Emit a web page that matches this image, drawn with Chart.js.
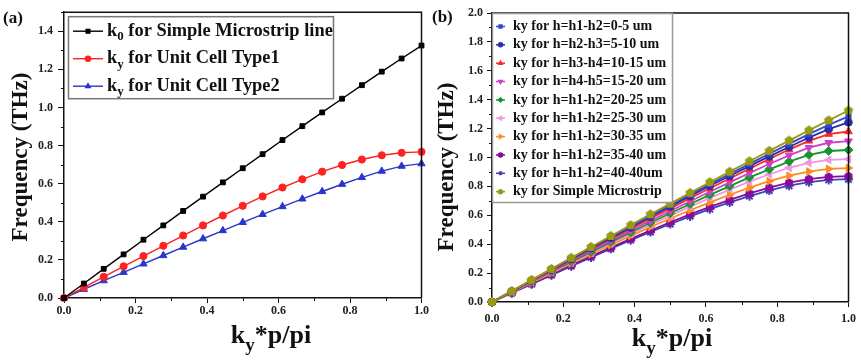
<!DOCTYPE html>
<html>
<head>
<meta charset="utf-8">
<script src="https://cdn.jsdelivr.net/npm/chart.js@4.4.1/dist/chart.umd.min.js"></script>
<style>
  html, body { margin: 0; padding: 0; background: #fff; }
  #wrap { position: relative; width: 861px; height: 361px; overflow: hidden; background: #fff; }
  canvas { position: absolute; top: 0; }
  #cA { left: 0; }
  #cB { left: 430px; }
</style>
</head>
<body>
<div id="wrap">
  <canvas id="cA" width="430" height="361"></canvas>
  <canvas id="cB" width="431" height="361"></canvas>
</div>
<script>
// Normalised wave number k*p/pi at each computed point
const kyValues = [0, 0.0556, 0.1111, 0.1667, 0.2222, 0.2778, 0.3333, 0.3889, 0.4444, 0.5,
                  0.5556, 0.6111, 0.6667, 0.7222, 0.7778, 0.8333, 0.8889, 0.9444, 1.0];

// Panel (a): dispersion curves (THz)
const k0Simple = [0, 0.076, 0.153, 0.229, 0.306, 0.381, 0.457, 0.532, 0.607, 0.681,
                  0.755, 0.829, 0.902, 0.974, 1.046, 1.117, 1.188, 1.257, 1.325];
const kyType1  = [0, 0.056, 0.111, 0.166, 0.220, 0.274, 0.328, 0.381, 0.433, 0.484,
                  0.533, 0.580, 0.623, 0.663, 0.698, 0.727, 0.749, 0.762, 0.767];
const kyType2  = [0, 0.046, 0.091, 0.135, 0.179, 0.223, 0.267, 0.311, 0.354, 0.397,
                  0.439, 0.480, 0.520, 0.559, 0.597, 0.633, 0.666, 0.692, 0.705];
const labelsA = ['k_0 for Simple Microstrip line', 'k_y for Unit Cell Type1', 'k_y for Unit Cell Type2'];

// Panel (b): groove depth sweep (THz)
const h0to5   = [0, 0.075, 0.151, 0.227, 0.302, 0.378, 0.450, 0.523, 0.598, 0.670,
                 0.744, 0.816, 0.886, 0.956, 1.026, 1.094, 1.162, 1.226, 1.285];
const h5to10  = [0, 0.074, 0.149, 0.224, 0.298, 0.372, 0.444, 0.516, 0.590, 0.661,
                 0.733, 0.804, 0.872, 0.940, 1.008, 1.073, 1.138, 1.196, 1.243];
const h10to15 = [0, 0.073, 0.146, 0.219, 0.292, 0.365, 0.436, 0.507, 0.578, 0.648,
                 0.718, 0.787, 0.855, 0.922, 0.990, 1.055, 1.115, 1.162, 1.180];
const h15to20 = [0, 0.072, 0.143, 0.214, 0.285, 0.356, 0.425, 0.494, 0.562, 0.630,
                 0.697, 0.763, 0.828, 0.893, 0.955, 1.015, 1.068, 1.102, 1.113];
const h20to25 = [0, 0.070, 0.140, 0.209, 0.278, 0.346, 0.414, 0.481, 0.548, 0.614,
                 0.678, 0.741, 0.802, 0.862, 0.918, 0.972, 1.018, 1.045, 1.052];
const h25to30 = [0, 0.069, 0.137, 0.205, 0.272, 0.339, 0.405, 0.470, 0.535, 0.598,
                 0.660, 0.720, 0.778, 0.833, 0.884, 0.929, 0.963, 0.983, 0.989];
const h30to35 = [0, 0.067, 0.134, 0.200, 0.266, 0.331, 0.395, 0.458, 0.519, 0.578,
                 0.635, 0.690, 0.742, 0.791, 0.836, 0.874, 0.903, 0.921, 0.927];
const h35to40 = [0, 0.064, 0.128, 0.191, 0.254, 0.316, 0.377, 0.437, 0.495, 0.552,
                 0.606, 0.658, 0.707, 0.752, 0.792, 0.826, 0.851, 0.866, 0.871];
const h40to40 = [0, 0.062, 0.124, 0.186, 0.248, 0.309, 0.369, 0.428, 0.485, 0.540,
                 0.593, 0.643, 0.690, 0.733, 0.772, 0.805, 0.830, 0.845, 0.850];
const simpleMicrostrip = [0, 0.076, 0.153, 0.229, 0.306, 0.381, 0.457, 0.532, 0.607, 0.681,
                          0.755, 0.829, 0.902, 0.974, 1.046, 1.117, 1.188, 1.257, 1.325];
const labelsB = [
  'ky for h=h1-h2=0-5 um', 'ky for h=h2-h3=5-10 um', 'ky for h=h3-h4=10-15 um',
  'ky for h=h4-h5=15-20 um', 'ky for h=h1-h2=20-25 um', 'ky for h=h1-h2=25-30 um',
  'ky for h=h1-h2=30-35 um', 'ky for h=h1-h2=35-40 um', 'ky for h=h1-h2=40-40um',
  'ky for Simple Microstrip'
];

// Axis ticks
const kTicks = [0, 0.2, 0.4, 0.6, 0.8, 1.0];
const freqTicksA = [0, 0.2, 0.4, 0.6, 0.8, 1.0, 1.2, 1.4];
const freqTicksB = [0, 0.2, 0.4, 0.6, 0.8, 1.0, 1.2, 1.4, 1.6, 1.8, 2.0];

const SERIF = '"Liberation Serif", "Times New Roman", serif';

function pts(ys) { return kyValues.map((x, i) => ({ x: x, y: ys[i] })); }

// filled polygon marker (pentagon / hexagon) as an image
function polyMarker(n, r, color) {
  const c = document.createElement('canvas');
  const s = Math.ceil(r * 2 + 2);
  c.width = s; c.height = s;
  const g = c.getContext('2d');
  g.fillStyle = color;
  g.beginPath();
  for (let i = 0; i < n; i++) {
    const a = -Math.PI / 2 + i * 2 * Math.PI / n;
    const px = s / 2 + r * Math.cos(a), py = s / 2 + r * Math.sin(a);
    if (i === 0) g.moveTo(px, py); else g.lineTo(px, py);
  }
  g.closePath(); g.fill();
  return c;
}

// text with "_x" subscripts
function richParts(str) {
  const out = []; const re = /_(.)/g; let last = 0, m;
  while ((m = re.exec(str))) {
    if (m.index > last) out.push({ t: str.slice(last, m.index), sub: false });
    out.push({ t: m[1], sub: true });
    last = re.lastIndex;
  }
  if (last < str.length) out.push({ t: str.slice(last), sub: false });
  return out;
}
function drawRich(ctx, str, x, y, size, align) {
  const parts = richParts(str);
  const subSize = Math.round(size * 0.72);
  const widths = parts.map(p => {
    ctx.font = 'bold ' + (p.sub ? subSize : size) + 'px ' + SERIF;
    return ctx.measureText(p.t).width;
  });
  const total = widths.reduce((a, b) => a + b, 0);
  let cx = align === 'center' ? x - total / 2 : x;
  parts.forEach((p, i) => {
    ctx.font = 'bold ' + (p.sub ? subSize : size) + 'px ' + SERIF;
    ctx.fillText(p.t, cx, y + (p.sub ? size * 0.3 : 0));
    cx += widths[i];
  });
}

// frame, minor ticks, titles and legend
const decorPlugin = {
  id: 'decor',
  afterDraw(chart, args, o) {
    const ctx = chart.ctx;
    const a = chart.chartArea;
    const xs = chart.scales.x, ys = chart.scales.y;
    ctx.save();
    ctx.strokeStyle = '#111';
    ctx.lineWidth = 1.5;
    ctx.beginPath();
    ctx.moveTo(a.left, a.top); ctx.lineTo(a.right, a.top); ctx.lineTo(a.right, a.bottom);
    ctx.stroke();
    // minor ticks
    ctx.lineWidth = 1;
    ctx.beginPath();
    for (let v = 0.1; v < xs.max; v += 0.2) {
      const px = Math.round(xs.getPixelForValue(v)) + 0.5;
      ctx.moveTo(px, a.bottom); ctx.lineTo(px, a.bottom + o.minorLen);
    }
    for (let v = 0.1; v < ys.max; v += 0.2) {
      const py = Math.round(ys.getPixelForValue(v)) + 0.5;
      ctx.moveTo(a.left, py); ctx.lineTo(a.left - o.minorLen, py);
    }
    ctx.stroke();

    // titles
    ctx.fillStyle = '#111';
    ctx.textBaseline = 'alphabetic';
    ctx.font = 'bold ' + o.panelSize + 'px ' + SERIF;
    ctx.textAlign = 'left';
    ctx.fillText(o.panel, o.panelX, o.panelY);
    drawRich(ctx, o.xTitle, o.xTitleX, o.xTitleY, o.xTitleSize, 'center');
    ctx.save();
    ctx.translate(o.yTitleX, o.yTitleY);
    ctx.rotate(-Math.PI / 2);
    ctx.textAlign = 'center';
    ctx.textBaseline = 'middle';
    ctx.font = 'bold ' + o.yTitleSize + 'px ' + SERIF;
    ctx.fillText(o.yTitle, 0, 0);
    ctx.restore();

    // legend
    const L = o.legend;
    const bx = a.left + L.dx, by = a.top + L.dy;
    ctx.fillStyle = '#fff';
    ctx.fillRect(bx, by, L.w, L.h);
    ctx.strokeStyle = L.border;
    ctx.lineWidth = L.borderWidth;
    ctx.strokeRect(bx + 0.5, by + 0.5, L.w, L.h);
    ctx.textAlign = 'left';
    ctx.textBaseline = 'middle';
    chart.data.datasets.forEach((ds, i) => {
      const cy = by + L.first + i * L.rowH;
      const lx = bx + L.lineX;
      ctx.strokeStyle = ds.borderColor;
      ctx.lineWidth = L.lineWidth;
      ctx.beginPath();
      ctx.moveTo(lx, cy); ctx.lineTo(lx + L.lineLen, cy);
      ctx.stroke();
      ctx.fillStyle = ds.backgroundColor;
      ctx.strokeStyle = ds.borderColor;
      Chart.helpers.drawPoint(ctx, {
        pointStyle: ds.legendStyle || ds.pointStyle,
        rotation: ds.pointRotation || 0,
        radius: L.markerR,
        borderWidth: 1
      }, lx + L.lineLen / 2, cy);
      ctx.fillStyle = '#111';
      drawRich(ctx, ds.label, lx + L.lineLen + L.gap, cy, L.size, 'left');
    });
    ctx.restore();
  }
};

function axisOpts(min, max, tickArr, fit, fitSize, padding, tickLen) {
  return {
    type: 'linear',
    min: min, max: max,
    afterBuildTicks: s => { s.ticks = tickArr.map(v => ({ value: v })); },
    afterFit: s => { s[fit] = fitSize; },
    ticks: {
      callback: v => Number(v).toFixed(1),
      font: { family: SERIF, weight: 'bold', size: 12 },
      color: '#222',
      padding: padding,
      maxRotation: 0,
      autoSkip: false
    },
    grid: { drawOnChartArea: false, drawTicks: true, tickLength: tickLen, color: '#111', lineWidth: 1 },
    border: { display: true, color: '#111', width: 1.5 }
  };
}

function lineDs(label, ys, color, style, radius, width, extra) {
  return Object.assign({
    label: label,
    data: pts(ys),
    borderColor: color,
    backgroundColor: color,
    pointBackgroundColor: color,
    pointBorderColor: color,
    pointStyle: style,
    pointRadius: radius,
    pointBorderWidth: 1,
    borderWidth: width,
    tension: 0,
    clip: false
  }, extra || {});
}

// Panel (a)
new Chart(document.getElementById('cA'), {
  type: 'line',
  data: {
    datasets: [
      lineDs(labelsA[0], k0Simple, '#000000', 'rect', 3.4, 1.4),
      lineDs(labelsA[1], kyType1, '#ff2222', 'circle', 3.6, 1.4),
      lineDs(labelsA[2], kyType2, '#2a35cc', 'triangle', 4.2, 1.4)
    ]
  },
  options: {
    responsive: false,
    animation: false,
    events: [],
    layout: { padding: { top: 6, right: 5, left: 0, bottom: 0 } },
    scales: {
      x: axisOpts(0, 1, kTicks, 'height', 63, 1, 5),
      y: axisOpts(0, 1.5, freqTicksA, 'width', 64, 5, 6)
    },
    plugins: {
      legend: { display: false },
      tooltip: { enabled: false },
      decor: {
        minorLen: 3,
        panel: '(a)', panelX: 3, panelY: 23, panelSize: 17,
        xTitle: 'k_y*p/pi', xTitleX: 271, xTitleY: 343, xTitleSize: 26,
        yTitle: 'Frequency (THz)', yTitleX: 21, yTitleY: 157, yTitleSize: 23,
        legend: {
          dx: 4, dy: 4, w: 265, h: 82, border: '#777', borderWidth: 1.5,
          first: 15, rowH: 27.5, lineX: 5, lineLen: 30, gap: 4,
          lineWidth: 1.4, markerR: 2.6, size: 18.4
        }
      }
    }
  },
  plugins: [decorPlugin]
});

// Panel (b)
const pentagon = polyMarker(5, 5, '#9a9a12');
const hexagon = polyMarker(6, 4.6, '#8a0a9c');
new Chart(document.getElementById('cB'), {
  type: 'line',
  data: {
    datasets: [
      lineDs(labelsB[0], h0to5, '#3347d0', 'rect', 3.6, 1.8),
      lineDs(labelsB[1], h5to10, '#2c2ca8', 'circle', 3.8, 1.8),
      lineDs(labelsB[2], h10to15, '#ff2626', 'triangle', 4.4, 1.8),
      lineDs(labelsB[3], h15to20, '#cc40cc', 'triangle', 4.4, 1.8, { pointRotation: 180 }),
      lineDs(labelsB[4], h20to25, '#15962a', 'rectRot', 4.4, 1.8),
      lineDs(labelsB[5], h25to30, '#ee96e2', 'triangle', 4.4, 1.8, { pointRotation: 270 }),
      lineDs(labelsB[6], h30to35, '#ff8c1c', 'triangle', 4.4, 1.8, { pointRotation: 90 }),
      lineDs(labelsB[7], h35to40, '#8a0a9c', hexagon, 4.6, 1.8, { legendStyle: 'circle' }),
      lineDs(labelsB[8], h40to40, '#4242b4', 'star', 4.6, 1.8, { pointBorderWidth: 2 }),
      lineDs(labelsB[9], simpleMicrostrip, '#9a9a12', pentagon, 5, 1.8, { order: -1, legendStyle: 'circle' })
    ]
  },
  options: {
    responsive: false,
    animation: false,
    events: [],
    layout: { padding: { top: 13, right: 9, left: 0, bottom: 0 } },
    scales: {
      x: axisOpts(0, 1, kTicks, 'height', 59, 5, 5),
      y: axisOpts(0, 2.0, freqTicksB, 'width', 62, 4, 5)
    },
    plugins: {
      legend: { display: false },
      tooltip: { enabled: false },
      decor: {
        minorLen: 3,
        panel: '(b)', panelX: 2, panelY: 22, panelSize: 17,
        xTitle: 'k_y*p/pi', xTitleX: 242, xTitleY: 346, xTitleSize: 26,
        yTitle: 'Frequency (THz)', yTitleX: 17, yTitleY: 167, yTitleSize: 23,
        legend: {
          dx: 0, dy: 0, w: 180, h: 189, border: '#999', borderWidth: 1.5,
          first: 13.5, rowH: 18.35, lineX: 4, lineLen: 9, gap: 8,
          lineWidth: 1.5, markerR: 2, size: 14
        }
      }
    }
  },
  plugins: [decorPlugin]
});
</script>
</body>
</html>
